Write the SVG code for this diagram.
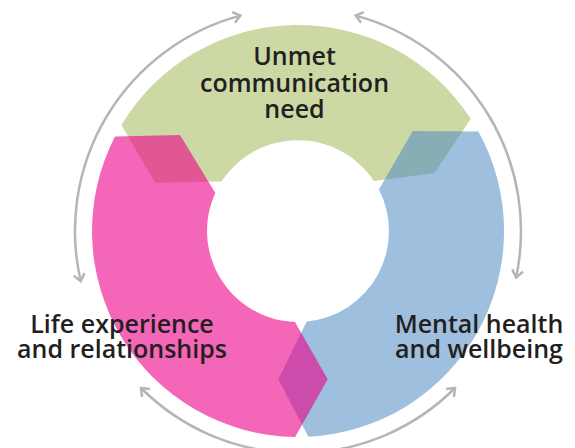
<svg xmlns="http://www.w3.org/2000/svg" width="575" height="448" viewBox="0 0 575 448">
  <style>
    .lbl { font-family: "Open Sans", "Noto Sans", "Liberation Sans", sans-serif; font-size: 25px; font-weight: 600; fill: #231f20; text-anchor: middle; }
    .arc { fill: none; stroke: #b5b5b5; stroke-width: 2.5; marker-start: url(#head); marker-end: url(#head); }
  </style>
  <defs>
    <marker id="head" markerUnits="userSpaceOnUse" markerWidth="16" markerHeight="16" viewBox="-10 -8 12 16" refX="0" refY="0" orient="auto-start-reverse">
      <path d="M-7,-5.5 L0,0 L-7,5.5" fill="none" stroke="#b5b5b5" stroke-width="2.5" stroke-linejoin="miter"/>
    </marker>
  </defs>
  <rect width="575" height="448" fill="#ffffff"/>

  <g id="node-unmet-communication-need">
    <path d="M121.4,124.9 A206,206 0 0 1 470.8,118.8 L434.3,173.3 L373.8,181 A91,91 0 0 0 221.6,181.6 L155,182.7 Z" fill="#ccd9a5"/>
  </g>
  <g id="node-mental-health">
    <path d="M478.4,131.4 A206,206 0 0 1 308.4,436.7 L278.3,379.3 L306.7,321.6 A91,91 0 0 0 378.9,189.4 L412.7,131 Z" fill="#4f8bc3" fill-opacity="0.55"/>
  </g>
  <g id="node-life-experience">
    <path d="M295.1,437 A206,206 0 0 1 115,136.5 L180,135 L215.3,193.1 A91,91 0 0 0 295,321.9 L327.7,379.3 Z" fill="#ed0089" fill-opacity="0.6"/>
  </g>

  <g id="connectors">
    <path class="arc" d="M80.7,281.2 A223,223 0 0 1 240.3,15.6"/>
    <path class="arc" d="M355.7,15.6 A223,223 0 0 1 516.1,277.4"/>
    <path class="arc" d="M455,388 A222,222 0 0 1 141,388"/>
  </g>

  <g id="labels">
    <text class="lbl" x="294.5" y="65">Unmet</text>
    <text class="lbl" x="294.5" y="91.5">communication</text>
    <text class="lbl" x="294.5" y="118">need</text>
    <text class="lbl" x="122" y="333">Life experience</text>
    <text class="lbl" x="122" y="358">and relationships</text>
    <text class="lbl" x="479" y="333">Mental health</text>
    <text class="lbl" x="479" y="358">and wellbeing</text>
  </g>
</svg>
